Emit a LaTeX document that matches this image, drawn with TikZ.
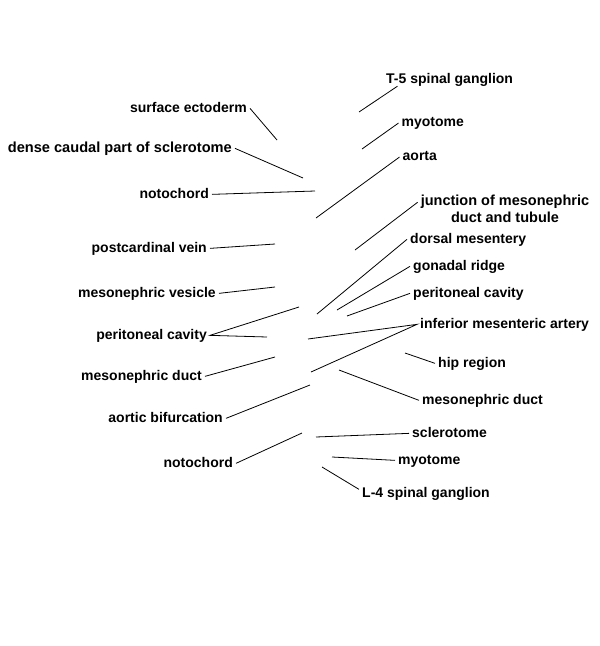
\documentclass[tikz,border=0pt]{standalone}
\usepackage{fontspec}
\setmainfont{Liberation Sans}
\begin{document}
\begin{tikzpicture}[x=1pt,y=-1pt,
  lab/.style={font=\fontsize{14}{17}\selectfont\bfseries, inner xsep=3pt, inner ysep=0pt, text height=7.3pt, text depth=0pt},
  labL/.style={lab, anchor=base east},
  labR/.style={lab, anchor=base west},
  ln/.style={line width=0.8pt, black}]
\useasboundingbox (0,0) rectangle (600,646);
% left labels
\node[labL] (se) at (250,112) {surface ectoderm};
\node[labL, font=\fontsize{14.6}{17}\selectfont\bfseries] (dc) at (235,152) {dense caudal part of sclerotome};
\node[labL] (nt) at (212,198) {notochord};
\node[labL] (pv) at (210,252) {postcardinal vein};
\node[labL] (mv) at (219,297) {mesonephric vesicle};
\node[labL] (pcl) at (210,339) {peritoneal cavity};
\node[labL] (mdl) at (205,380) {mesonephric duct};
\node[labL] (ab) at (226,422) {aortic bifurcation};
\node[labL] (nb) at (236,467) {notochord};
% right labels
\node[labR] (t5) at (383,83.3) {T-5 spinal ganglion};
\node[labR] (myt) at (398.5,126.7) {myotome};
\node[labR] (ao) at (399.5,160.7) {aorta};
\node[font=\fontsize{14.5}{16.3}\selectfont\bfseries, align=center, inner sep=0pt, anchor=north] (jn) at (505,195) {junction of mesonephric\\duct and tubule};
\node[labR] (dm) at (407,243) {dorsal mesentery};
\node[labR] (gr) at (410,270) {gonadal ridge};
\node[labR] (pcr) at (410,297) {peritoneal cavity};
\node[labR] (ima) at (417,328) {inferior mesenteric artery};
\node[labR] (hr) at (435,367) {hip region};
\node[labR] (mdr) at (419,404) {mesonephric duct};
\node[labR] (sc) at (409,437) {sclerotome};
\node[labR] (myb) at (395,464) {myotome};
\node[labR] (l4) at (359,497) {L-4 spinal ganglion};
% free ends
\coordinate (e-se) at (277,140);
\coordinate (e-dc) at (303,178);
\coordinate (e-nt) at (315,191);
\coordinate (e-pv) at (275,244);
\coordinate (e-mv) at (275,287);
\coordinate (e-pcl1) at (299,307);
\coordinate (e-pcl2) at (267,337);
\coordinate (e-mdl) at (275,357);
\coordinate (e-ab) at (310,385);
\coordinate (e-nb) at (302,433);
\coordinate (e-t5) at (359,112);
\coordinate (e-myt) at (362,149);
\coordinate (e-ao) at (316,218);
\coordinate (e-jn) at (355,250);
\coordinate (e-dm) at (317,314);
\coordinate (e-gr) at (337,310);
\coordinate (e-pcr) at (347,316);
\coordinate (e-ima1) at (308,339);
\coordinate (e-ima2) at (311,372);
\coordinate (e-hr) at (405,353);
\coordinate (e-mdr) at (339,370);
\coordinate (e-sc) at (316,437);
\coordinate (e-myb) at (332,457);
\coordinate (e-l4) at (322,467);
% connectors
\draw[ln] (se.east) -- (e-se);
\draw[ln] (dc.east) -- (e-dc);
\draw[ln] (nt.east) -- (e-nt);
\draw[ln] (pv.east) -- (e-pv);
\draw[ln] (mv.east) -- (e-mv);
\draw[ln] (e-pcl1) -- (pcl.east) -- (e-pcl2);
\draw[ln] (mdl.east) -- (e-mdl);
\draw[ln] (ab.east) -- (e-ab);
\draw[ln] (nb.east) -- (e-nb);
\draw[ln] ([shift={(14.5pt,-2.7pt)}]t5.south west) -- (e-t5);
\draw[ln] (myt.west) -- (e-myt);
\draw[ln] (ao.west) -- (e-ao);
\draw[ln] ([shift={(-3pt,6.4pt)}]jn.west) -- (e-jn);
\draw[ln] (dm.west) -- (e-dm);
\draw[ln] (gr.west) -- (e-gr);
\draw[ln] (pcr.west) -- (e-pcr);
\draw[ln] (e-ima1) -- (ima.west) -- (e-ima2);
\draw[ln] (hr.west) -- (e-hr);
\draw[ln] (mdr.west) -- (e-mdr);
\draw[ln] (sc.west) -- (e-sc);
\draw[ln] (myb.west) -- (e-myb);
\draw[ln] ([yshift=4pt]l4.west) -- (e-l4);
\end{tikzpicture}
\end{document}
